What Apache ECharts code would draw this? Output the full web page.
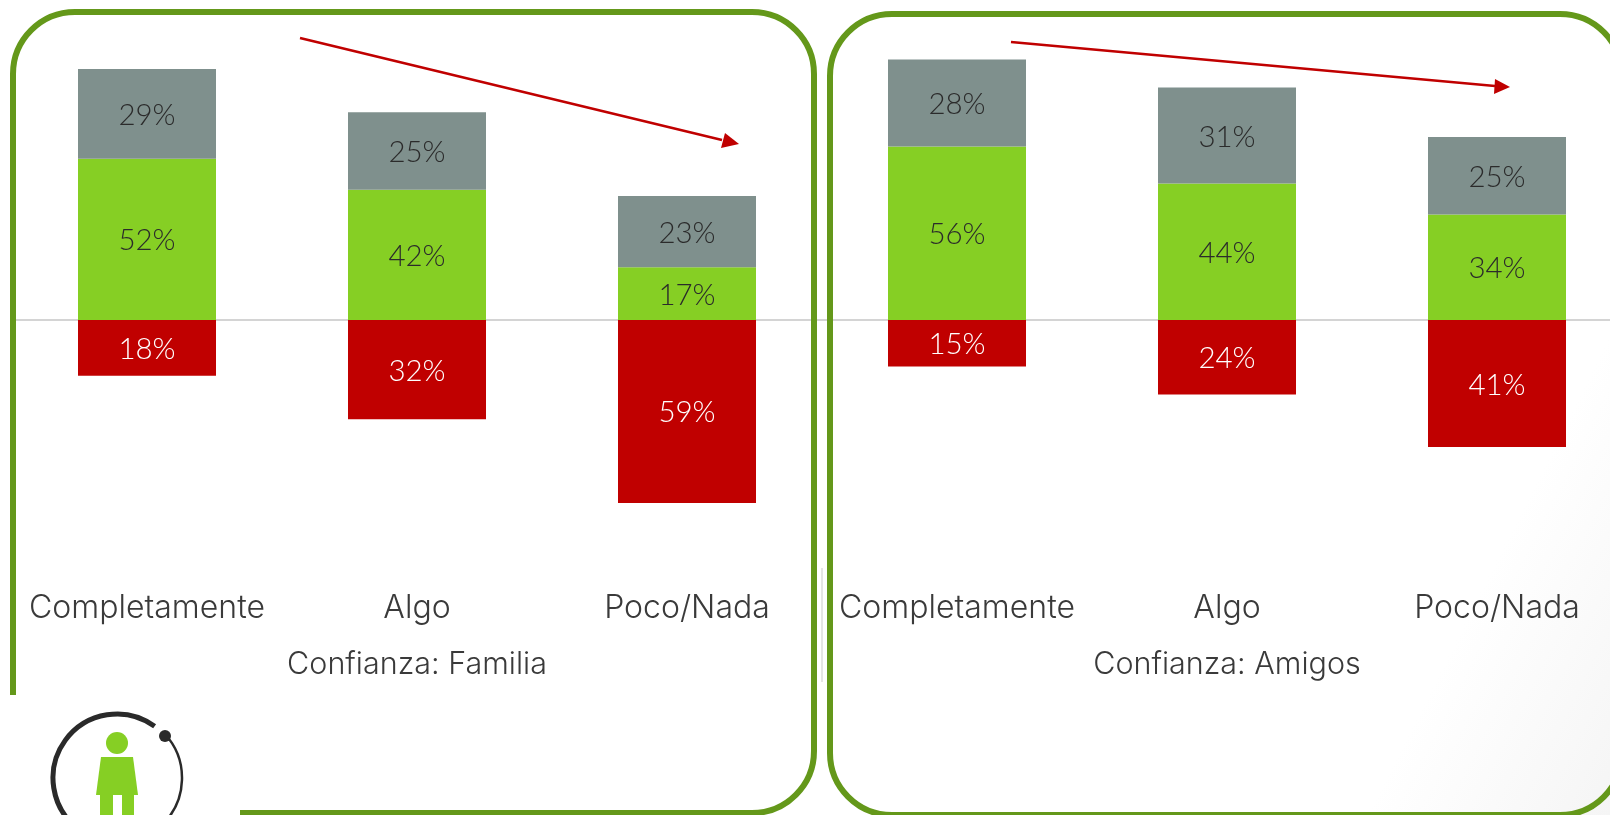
<!DOCTYPE html>
<html><head><meta charset="utf-8">
<style>html,body{margin:0;padding:0;background:#fff}#c{width:1610px;height:815px}</style>
<script src="https://cdn.jsdelivr.net/npm/echarts@6/dist/echarts.min.js"></script>
</head><body><div id="c"></div>
<script>
const categories = ['Completamente', 'Algo', 'Poco/Nada'];
const familiaVerde = [52, 42, 17];
const familiaGris = [29, 25, 23];
const familiaRojo = [-18, -32, -59];
const amigosVerde = [56, 44, 34];
const amigosGris = [28, 31, 25];
const amigosRojo = [-15, -24, -41];
const titulos = ['Confianza: Familia', 'Confianza: Amigos'];

const FONT = 'Lato', AXFONT = 'Inter';
const GREEN = '#86cf24', GREY = '#7f908d', RED = '#c00000', BORDER = '#64981a';
const chart = echarts.init(document.getElementById('c'), null, {renderer:'canvas'});

function xAxes(gi, name){
  return [{
    type:'category', gridIndex:gi, data:categories, position:'bottom', axisLine:{show:false,onZero:false},
    axisTick:{show:false}, axisLabel:{fontFamily:AXFONT,fontWeight:300,fontSize:32,color:'#3a3a3a',margin:9,interval:0},
    name:name, nameLocation:'middle', nameGap:66, nameTextStyle:{fontFamily:AXFONT,fontWeight:300,fontSize:30.5,color:'#3a3a3a'}
  },{
    type:'category', gridIndex:gi, data:categories, position:'top', axisLine:{show:true,onZero:true,lineStyle:{color:'#d4d4d4',width:2}},
    axisTick:{show:false}, axisLabel:{show:false}
  }];
}
function yAxis(gi){return {type:'value',gridIndex:gi,min:-85,max:90,show:false,splitLine:{show:false}};}
function bar(gi,vals,color,txt,stack){
  return {type:'bar',xAxisIndex:gi*2,yAxisIndex:gi,data:vals,stack:stack,barWidth:138,z:3,
    itemStyle:{color:color},
    label:{show:true,position:'inside',offset:[0,1.5],fontFamily:FONT,fontWeight:300,fontSize:29.5,color:txt,
      formatter:p=>Math.abs(p.value)+'%'}};
}
function roundedPanel(x,y,w,h,r){
  return {type:'rect',z:1,shape:{x,y,width:w,height:h,r},style:{fill:'transparent',stroke:BORDER,lineWidth:6}};
}
chart.setOption({
  animation:false,
  backgroundColor:new echarts.graphic.LinearGradient(0,0,1,1,[{offset:0,color:'#ffffff'},{offset:0.88,color:'#ffffff'},{offset:1,color:'#f5f5f5'}]),
  grid:[
    {left:12,width:810,top:41,height:542.5,outerBoundsMode:'none'},
    {left:822,width:810,top:41,height:542.5,outerBoundsMode:'none'}
  ],
  xAxis:[...xAxes(0,titulos[0]),...xAxes(1,titulos[1])],
  yAxis:[yAxis(0),yAxis(1)],
  series:[
    bar(0,familiaVerde,GREEN,'#2b2b2b','a'),bar(0,familiaGris,GREY,'#2b2b2b','a'),bar(0,familiaRojo,RED,'#ffffff','a'),
    bar(1,amigosVerde,GREEN,'#2b2b2b','b'),bar(1,amigosGris,GREY,'#2b2b2b','b'),bar(1,amigosRojo,RED,'#ffffff','b')
  ],
  graphic:[
    roundedPanel(13,12,801,801,62),
    roundedPanel(830,14,792,801,62),
    {type:'rect',z:2,shape:{x:0,y:695,width:240,height:120},style:{fill:'#fff'}},
    {type:'line',z:10,shape:{x1:822,y1:568,x2:822,y2:682},style:{stroke:'#dcdcdc',lineWidth:1.5}},
    {type:'line',z:10,shape:{x1:300,y1:38,x2:722,y2:140},style:{stroke:RED,lineWidth:2.5}},
    {type:'polygon',z:10,shape:{points:[[739,144],[721,148],[725,133]]},style:{fill:RED}},
    {type:'line',z:10,shape:{x1:1011,y1:42,x2:1495,y2:86},style:{stroke:RED,lineWidth:2.5}},
    {type:'polygon',z:10,shape:{points:[[1510,87],[1494,94],[1495,79]]},style:{fill:RED}},
    {type:'arc',z:10,shape:{cx:117,cy:778,r:64,startAngle:-Math.PI*0.3,endAngle:Math.PI*0.6,clockwise:false},style:{fill:'none',stroke:'#2a2a2a',lineWidth:5}},
    {type:'arc',z:10,shape:{cx:117,cy:778,r:65,startAngle:-Math.PI*0.24,endAngle:Math.PI*0.3,clockwise:true},style:{fill:'none',stroke:'#2a2a2a',lineWidth:2.5}},
    {type:'circle',z:10,shape:{cx:165,cy:736,r:6},style:{fill:'#2a2a2a'}},
    {type:'circle',z:10,shape:{cx:117,cy:743,r:11},style:{fill:GREEN}},
    {type:'polygon',z:10,shape:{points:[[101,757],[133,757],[138,795],[96,795]]},style:{fill:GREEN}},
    {type:'rect',z:10,shape:{x:100,y:795,width:13,height:20},style:{fill:GREEN}},
    {type:'rect',z:10,shape:{x:122,y:795,width:12,height:20},style:{fill:GREEN}}
  ]
});
</script></body></html>
